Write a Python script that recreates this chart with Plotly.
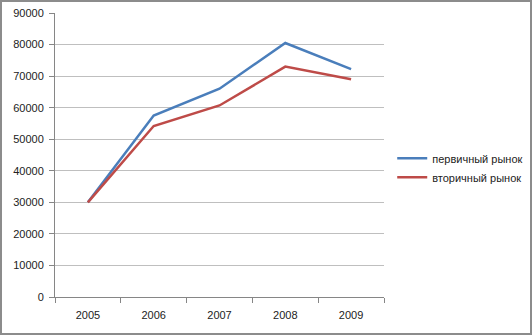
import plotly.graph_objects as go

years = ["2005", "2006", "2007", "2008", "2009"]
primary = [30000, 57500, 66000, 80500, 72200]
secondary = [30000, 54200, 60700, 73000, 69000]
names = ["первичный рынок", "вторичный рынок"]
colors = ["#4A7EBB", "#BE4B48"]

fig = go.Figure()
for vals, name, col in zip([primary, secondary], names, colors):
    fig.add_trace(go.Scatter(x=years, y=vals, mode="lines", name=name,
                             line=dict(color=col, width=2.5)))

fig.update_layout(
    width=532, height=335,
    margin=dict(l=55, r=148, t=13, b=38, autoexpand=False),
    paper_bgcolor="white", plot_bgcolor="white",
    font=dict(family="Liberation Sans, Arial, sans-serif", size=11, color="#222"),
    legend=dict(x=1.025, y=0.455, xanchor="left", yanchor="middle",
                font=dict(size=11), tracegroupgap=0, itemwidth=30,
                borderwidth=0, bgcolor="rgba(0,0,0,0)"),
    xaxis=dict(type="category", range=[-0.5, 4.5], tickson="boundaries",
               ticks="outside", ticklen=5, tickcolor="#868686",
               showline=True, linecolor="#868686", linewidth=1,
               showgrid=False, zeroline=False, tickfont=dict(size=11),
               ticklabelstandoff=8, automargin=False),
    yaxis=dict(range=[0, 90000], dtick=10000, ticks="outside", ticklen=5,
               tickcolor="#868686", showline=True, linecolor="#868686",
               linewidth=1, gridcolor="#BFBFBF", gridwidth=1, zeroline=False,
               tickfont=dict(size=11), tickformat="d", ticklabelstandoff=3,
               automargin=False),
    showlegend=True,
)
fig.add_shape(type="rect", xref="paper", yref="paper",
              x0=-54/329, x1=(532-55-1)/329, y0=-(38-1)/284, y1=12/284 + 1,
              line=dict(color="#8C8C8C", width=2), fillcolor="rgba(0,0,0,0)",
              layer="below")
fig.write_html("out.html")
